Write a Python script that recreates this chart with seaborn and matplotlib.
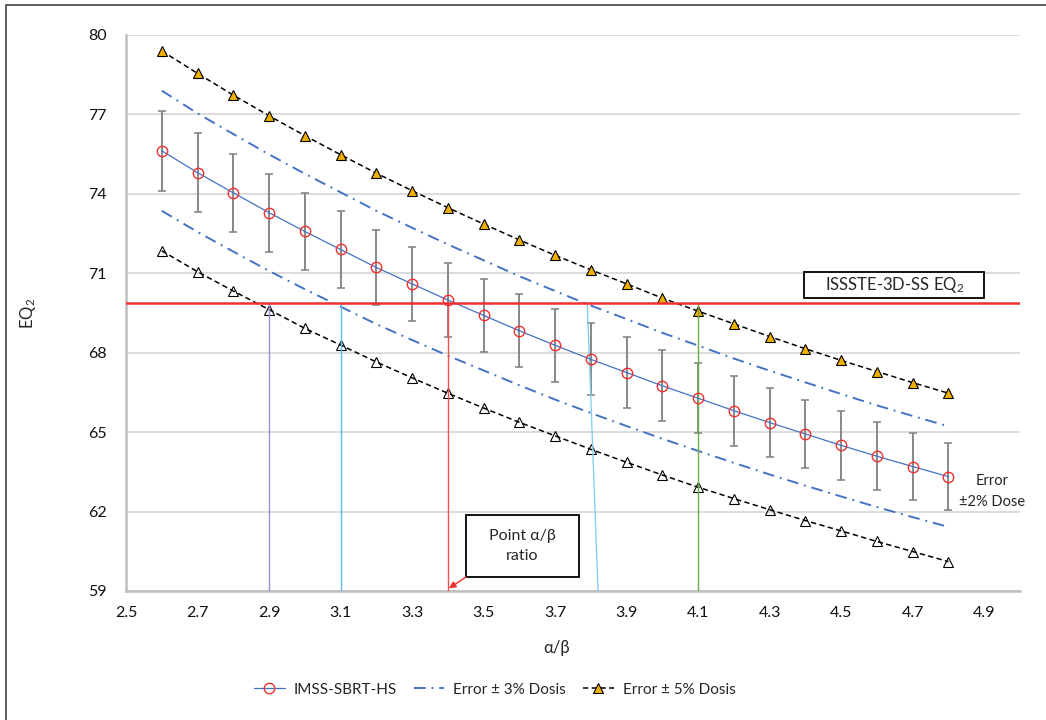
import matplotlib
matplotlib.use("Agg")
import matplotlib.pyplot as plt
import seaborn as sns
from matplotlib.patches import Rectangle

# ======================
# DATA
# ======================
ab_ratio = [2.6, 2.7, 2.8, 2.9, 3.0, 3.1, 3.2, 3.3, 3.4, 3.5, 3.6, 3.7,
            3.8, 3.9, 4.0, 4.1, 4.2, 4.3, 4.4, 4.5, 4.6, 4.7, 4.8]

eq2_imss = [75.63, 74.80, 74.04, 73.29, 72.58, 71.90, 71.22, 70.60, 69.99, 69.41, 68.83, 68.28,
            67.75, 67.25, 66.75, 66.28, 65.81, 65.36, 64.93, 64.50, 64.09, 63.70, 63.32]

err_2pct = [1.51, 1.50, 1.48, 1.47, 1.45, 1.44, 1.42, 1.41, 1.40, 1.39, 1.38, 1.37,
            1.36, 1.35, 1.34, 1.33, 1.32, 1.31, 1.30, 1.29, 1.28, 1.27, 1.27]

upper_3pct = [77.90, 77.04, 76.26, 75.49, 74.76, 74.06, 73.36, 72.72, 72.09, 71.49, 70.89, 70.33,
              69.78, 69.27, 68.75, 68.27, 67.78, 67.32, 66.88, 66.44, 66.01, 65.61, 65.22]
lower_3pct = [73.36, 72.56, 71.82, 71.09, 70.40, 69.74, 69.08, 68.48, 67.89, 67.33, 66.77, 66.23,
              65.72, 65.23, 64.75, 64.29, 63.84, 63.40, 62.98, 62.57, 62.17, 61.79, 61.42]

upper_5pct = [79.40, 78.55, 77.73, 76.95, 76.20, 75.48, 74.78, 74.12, 73.48, 72.86, 72.26, 71.68,
              71.13, 70.60, 70.06, 69.57, 69.09, 68.61, 68.15, 67.71, 67.29, 66.87, 66.47]
lower_5pct = [71.85, 71.06, 70.33, 69.63, 68.92, 68.29, 67.65, 67.05, 66.47, 65.91, 65.37, 64.86,
              64.35, 63.86, 63.38, 62.92, 62.49, 62.07, 61.66, 61.27, 60.87, 60.49, 60.11]

issste_eq2 = 69.86

# vertical guide lines (alpha/beta where the curves reach the ISSSTE level)
guide_ab_bottom = [2.9, 3.1, 3.4, 3.82, 4.1]
guide_ab_top = [2.9, 3.1, 3.4, 3.79, 4.1]

x_ticks = [2.5, 2.7, 2.9, 3.1, 3.3, 3.5, 3.7, 3.9, 4.1, 4.3, 4.5, 4.7, 4.9]
y_ticks = [59, 62, 65, 68, 71, 74, 77, 80]

# ======================
# STYLE
# ======================
BLUE = "#4472C4"
RED = "#F03030"
GOLD = "#F0B000"
GRAY = "#7F7F7F"
guide_colors = ["#A58BD0", "#5BBDE8", "#F05050", "#86CFEF", "#70AD47"]

sns.set_style("white")
FONT = ["Lato", "DejaVu Sans"]
plt.rcParams["font.family"] = FONT
plt.rcParams["mathtext.fontset"] = "custom"
plt.rcParams["mathtext.rm"] = "Lato"
plt.rcParams["mathtext.it"] = "Lato:italic"
plt.rcParams["mathtext.bf"] = "Lato:bold"

fig = plt.figure(figsize=(10.46, 7.2), dpi=100)
ax = fig.add_axes([126 / 1046, 1 - 591 / 720, 894 / 1046, 556 / 720])

# ======================
# SERIES
# ======================
ax.errorbar(ab_ratio, eq2_imss, yerr=err_2pct, fmt="none", ecolor=GRAY,
            elinewidth=1.3, capsize=3, capthick=1.1, zorder=3)

sns.lineplot(x=ab_ratio, y=eq2_imss, ax=ax, color=BLUE, linewidth=0.9,
             marker="o", markersize=7.5, markerfacecolor="none",
             markeredgecolor=RED, markeredgewidth=1.0, label="IMSS-SBRT-HS", zorder=5)

sns.lineplot(x=ab_ratio, y=upper_3pct, ax=ax, color=BLUE, linewidth=1.4,
             linestyle=(0, (6, 3, 1, 3)), label="Error \u00b1 3% Dosis", zorder=4)
sns.lineplot(x=ab_ratio, y=lower_3pct, ax=ax, color=BLUE, linewidth=1.4,
             linestyle=(0, (6, 3, 1, 3)), zorder=4)

sns.lineplot(x=ab_ratio, y=upper_5pct, ax=ax, color="black", linewidth=1.1,
             linestyle=(0, (3.5, 2.2)), marker="^", markersize=7,
             markerfacecolor=GOLD, markeredgecolor="black", markeredgewidth=0.8,
             label="Error \u00b1 5% Dosis", zorder=4)
sns.lineplot(x=ab_ratio, y=lower_5pct, ax=ax, color="black", linewidth=1.1,
             linestyle=(0, (3.5, 2.2)), marker="^", markersize=7,
             markerfacecolor="none", markeredgecolor="black", markeredgewidth=0.8,
             zorder=4)

# reference level + guides
ax.axhline(issste_eq2, color=RED, linewidth=1.8, zorder=6)
for xb, xt, c in zip(guide_ab_bottom, guide_ab_top, guide_colors):
    ax.plot([xb, xt], [y_ticks[0], issste_eq2], color=c, linewidth=1.0, zorder=4.5)

# ======================
# AXES
# ======================
ax.set_xlim(2.5, 5.0)
ax.set_ylim(59, 80)
ax.set_xticks(x_ticks)
ax.set_xticklabels([f"{v:.1f}" for v in x_ticks])
ax.set_yticks(y_ticks)
ax.grid(axis="y", color="#D9D9D9", linewidth=1.3)
ax.grid(axis="x", visible=False)
ax.set_axisbelow(True)
for s in ["top", "right"]:
    ax.spines[s].set_visible(False)
for s in ["left", "bottom"]:
    ax.spines[s].set_color("#BFBFBF")
    ax.spines[s].set_linewidth(1.8)
ax.tick_params(axis="x", length=4, width=1.2, color="#BFBFBF", pad=7, labelsize=11.5, labelcolor="#111111")
ax.tick_params(axis="y", length=0, pad=14, labelsize=11.5, labelcolor="#111111")

ax.set_xlabel("\u03b1/\u03b2", fontsize=12)
ax.xaxis.set_label_coords(0.482, -0.088)
ax.set_ylabel("EQ$_2$", fontsize=12)
ax.yaxis.set_label_coords(-0.098, 0.5)

# ======================
# ANNOTATIONS
# ======================
ax.add_patch(Rectangle((4.397, 70.07), 0.501, 0.98, facecolor="white",
                       edgecolor="black", linewidth=1.3, zorder=7))
ax.text(4.648, 70.54, "ISSSTE-3D-SS EQ$_2$", ha="center", va="center", fontsize=12, zorder=8)

ax.add_patch(Rectangle((3.451, 59.53), 0.316, 2.34, facecolor="white",
                       edgecolor="black", linewidth=1.3, zorder=7))
ax.text(3.609, 60.70, "Point \u03b1/\u03b2\nratio", ha="center", va="center",
        fontsize=11.5, linespacing=1.6, zorder=8)
ax.annotate("", xy=(3.403, 59.1), xytext=(3.451, 59.53),
            arrowprops=dict(arrowstyle="-|>", color=RED, lw=1.0, mutation_scale=10,
                            shrinkA=0, shrinkB=0), zorder=8)

ax.text(4.922, 62.75, "Error\n\u00b12% Dose", ha="center", va="center",
        fontsize=10.5, linespacing=1.6, zorder=8)

# ======================
# LEGEND + FRAME
# ======================
handles, labels = ax.get_legend_handles_labels()
ax.legend(handles, labels, loc="center", bbox_to_anchor=(0.473, 0.042),
          bbox_transform=fig.transFigure, ncol=3, frameon=False, fontsize=11,
          handlelength=2.0, handletextpad=0.6, columnspacing=1.1)

fig.add_artist(Rectangle((6 / 1046, -0.5), 2.0, 1.5 - 5 / 720, fill=False,
                         edgecolor="#404040", linewidth=1.2, transform=fig.transFigure))

fig.savefig("out.png", dpi=100)
plt.close(fig)
